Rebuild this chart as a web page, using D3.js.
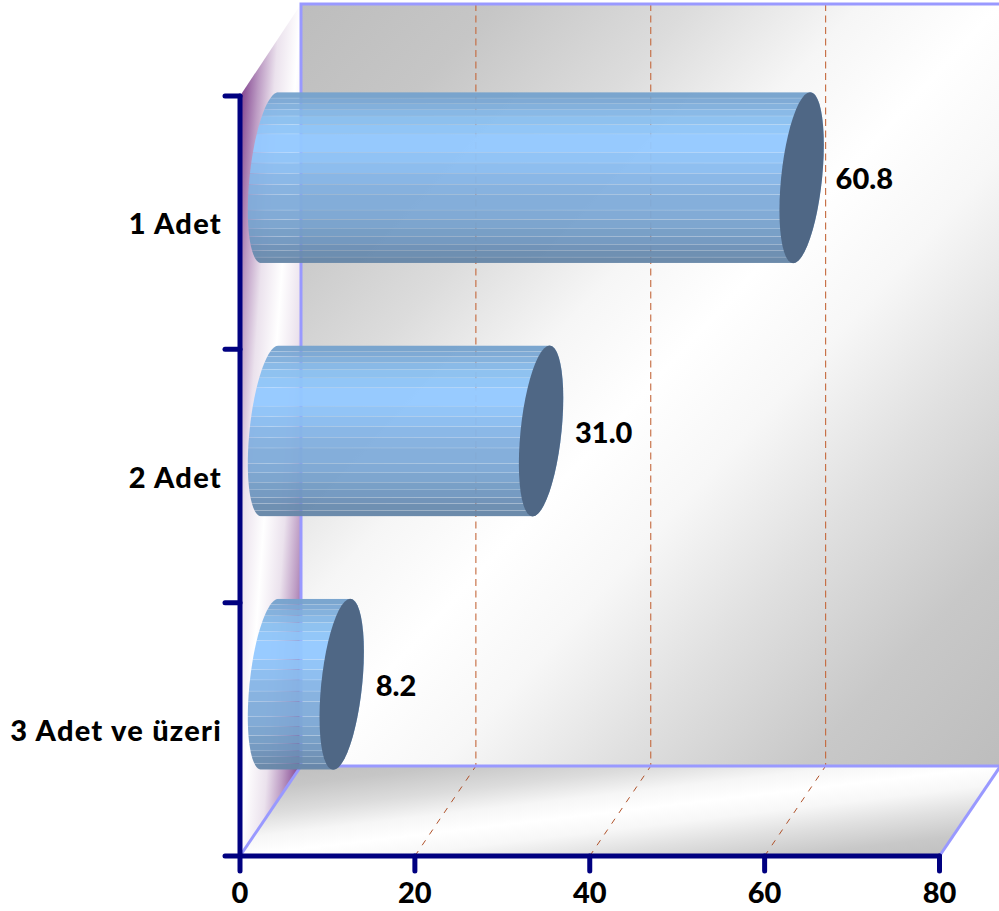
<!DOCTYPE html>
<html>
<head>
<meta charset="utf-8">
<style>
html,body{margin:0;padding:0;background:#fff;overflow:hidden}
svg{display:block}
text{font-family:Lato,"Open Sans",sans-serif;font-weight:900;font-size:29px;fill:#000}
.cat{letter-spacing:1.25px}
</style>
<script src="https://cdn.jsdelivr.net/npm/d3@7/dist/d3.min.js"></script>
</head>
<body>
<svg id="chart" width="999" height="911"></svg>
<script>
// Chart data
const categories = ["1 Adet", "2 Adet", "3 Adet ve üzeri"];
const values = [60.8, 31.0, 8.2];
const xTicks = [0, 20, 40, 60, 80];
const gridTicks = [20, 40, 60];

// Shading bands of a cylinder, top to bottom: upper edge as a fraction of its height, and colour
const bandEdges = [0, .035, .065, .10, .14, .19, .245, .355, .415, .475, .54, .60, .69, .745, .80, .845, .89, .925, .965];
const bandColors = ["#76a2cd", "#7ba8d4", "#80afdc", "#85b7e6", "#8abfef", "#8fc5f8", "#94c9ff", "#8fc3f7", "#8abcef",
                    "#86b5e6", "#83b0df", "#80acda", "#7da8d4", "#79a2cd", "#749cc5", "#7097bf", "#6c90b6", "#698baf", "#6686a8"];

const svg = d3.select("#chart");
const defs = svg.append("defs");

const width3d = 61, height3d = 90;
const x = d3.scaleLinear().domain([0, 80]).range([240, 939.5]);
const y = d3.scaleBand().domain(categories).range([96, 856]).paddingInner(0.325).paddingOuter(0.1625);
const bottom = 856, top3d = 96, wallTop = 4;

function reflected(id, stops) {
  const g = defs.append("linearGradient").attr("id", id)
    .attr("x1", 0).attr("y1", 0).attr("x2", 1).attr("y2", 1);
  g.selectAll("stop").data(stops).join("stop")
    .attr("offset", d => d[0]).attr("stop-color", d => d[1]);
}
const grayStops = [[0, "#bdbdbd"], [.14, "#c6c6c6"], [.28, "#dcdcdc"], [.4, "#f6f6f6"], [.5, "#ffffff"],
                   [.6, "#f7f7f7"], [.72, "#e0e0e0"], [.86, "#c8c8c8"], [1, "#bdbdbd"]];
reflected("wallFill", grayStops);
reflected("floorFill", grayStops);
reflected("sideFill", [[0, "#661a78"], [.08, "#8a5096"], [.2, "#bd9cc4"], [.33, "#ebe2ed"], [.5, "#ffffff"],
                       [.67, "#ebe2ed"], [.8, "#bd9cc4"], [.92, "#8a5096"], [1, "#661a78"]]);

const poly = pts => d3.line()(pts) + "Z";
const x0 = x(0), x80 = x(80);
const wallBottom = bottom - height3d;

// Back wall, floor and side wall
svg.append("path").attr("d", poly([[x0 + width3d, wallTop], [x80 + width3d, wallTop], [x80 + width3d, wallBottom], [x0 + width3d, wallBottom]]))
  .attr("fill", "url(#wallFill)");
svg.append("path").attr("d", poly([[x0, bottom], [x0 + width3d, wallBottom], [x80 + width3d, wallBottom], [x80, bottom]]))
  .attr("fill", "url(#floorFill)");
svg.append("path").attr("d", poly([[x0, top3d], [x0 + width3d, wallTop], [x0 + width3d, wallBottom], [x0, bottom]]))
  .attr("fill", "url(#sideFill)");

// Dashed gridlines on the wall and the floor
svg.append("g").selectAll("line").data(gridTicks).join("line")
  .attr("x1", d => x(d) + width3d).attr("x2", d => x(d) + width3d)
  .attr("y1", wallTop).attr("y2", wallBottom)
  .attr("stroke", "#c4683c").attr("stroke-width", 1.1).attr("stroke-dasharray", "7,4.5");
svg.append("g").selectAll("line").data(gridTicks).join("line")
  .attr("x1", d => x(d)).attr("x2", d => x(d) + width3d)
  .attr("y1", bottom).attr("y2", wallBottom)
  .attr("stroke", "#b0522a").attr("stroke-width", 1).attr("stroke-dasharray", "6,7");

// Frame of the box
const frame = "#9999ff";
svg.append("path")
  .attr("d", d3.line()([[x80 + width3d, wallTop], [x0 + width3d, wallTop], [x0 + width3d, wallBottom], [x80 + width3d, wallBottom]]))
  .attr("fill", "none").attr("stroke", frame).attr("stroke-width", 3);
svg.append("path").attr("d", d3.line()([[x0, bottom], [x0 + width3d, wallBottom]]))
  .attr("fill", "none").attr("stroke", frame).attr("stroke-width", 3);
svg.append("path").attr("d", d3.line()([[x80, bottom], [x80 + width3d, wallBottom]]))
  .attr("fill", "none").attr("stroke", frame).attr("stroke-width", 3);

// Cylinders
const depthMid = 30, capA = 20.5, capSkew = 8.5;
function ellipsePoint(cx, cy, ry, t) {
  return [cx + capA * Math.cos(t) - capSkew * Math.sin(t), cy + ry * Math.sin(t)];
}
function arc(cx, cy, ry, from, to) {
  return d3.range(0, 49).map(i => ellipsePoint(cx, cy, ry, from + (to - from) * i / 48));
}

const bars = svg.append("g").selectAll("g").data(categories).join("g");
bars.each(function (cat, i) {
  const g = d3.select(this);
  const ry = y.bandwidth() / 2;
  const cy = y(cat) + ry - height3d / 2;
  const cLeft = x(0) + depthMid, cRight = x(values[i]) + depthMid;
  const outline = arc(cLeft, cy, ry, -Math.PI / 2, -Math.PI * 1.5)
    .concat(arc(cRight, cy, ry, Math.PI / 2, -Math.PI / 2));
  defs.append("clipPath").attr("id", "body" + i).append("path").attr("d", poly(outline));
  const bodyG = g.append("g").attr("clip-path", `url(#body${i})`);
  const h = y.bandwidth(), top = cy - ry;
  // Bands stop just short of each other, so a hairline of the backdrop shows between them
  bodyG.selectAll("rect").data(bandEdges).join("rect")
    .attr("x", cLeft - 40).attr("width", cRight - cLeft + 80)
    .attr("y", d => top + d * h)
    .attr("height", (d, k) => ((bandEdges[k + 1] ?? 1) - d) * h - .22)
    .attr("fill", (d, k) => bandColors[k]).attr("fill-opacity", .96);
  g.append("path").attr("d", poly(arc(cRight, cy, ry, 0, Math.PI * 2)))
    .attr("fill", "#4f6785");
  g.append("text").attr("x", cRight + 34).attr("y", cy + 11.5).text(values[i].toFixed(1));
});

// Axes
const navy = "#000080";
const axisLine = sel => sel.attr("stroke", navy).attr("stroke-width", 5).attr("stroke-linecap", "round");
svg.append("line").attr("x1", x0).attr("x2", x0).attr("y1", top3d).attr("y2", bottom).call(axisLine);
svg.append("line").attr("x1", x0).attr("x2", x80).attr("y1", bottom).attr("y2", bottom).call(axisLine);
const yEdges = [...categories.map(c => y(c) - y.step() * y.paddingInner() / 2), bottom];
svg.append("g").selectAll("line").data(yEdges).join("line")
  .attr("x1", x0 - 15).attr("x2", x0).attr("y1", d => d).attr("y2", d => d).call(axisLine);
svg.append("g").selectAll("line").data(xTicks).join("line")
  .attr("x1", d => x(d)).attr("x2", d => x(d)).attr("y1", bottom).attr("y2", bottom + 15).call(axisLine);

// Labels
svg.append("g").selectAll("text").data(xTicks).join("text")
  .attr("x", d => x(d)).attr("y", 903).attr("text-anchor", "middle").text(d => d);
svg.append("g").selectAll("text").data(categories).join("text")
  .attr("class", "cat")
  .attr("x", 222).attr("y", c => y(c) + y.bandwidth() / 2 + 11.5).attr("text-anchor", "end").text(c => c);
</script>
</body>
</html>
